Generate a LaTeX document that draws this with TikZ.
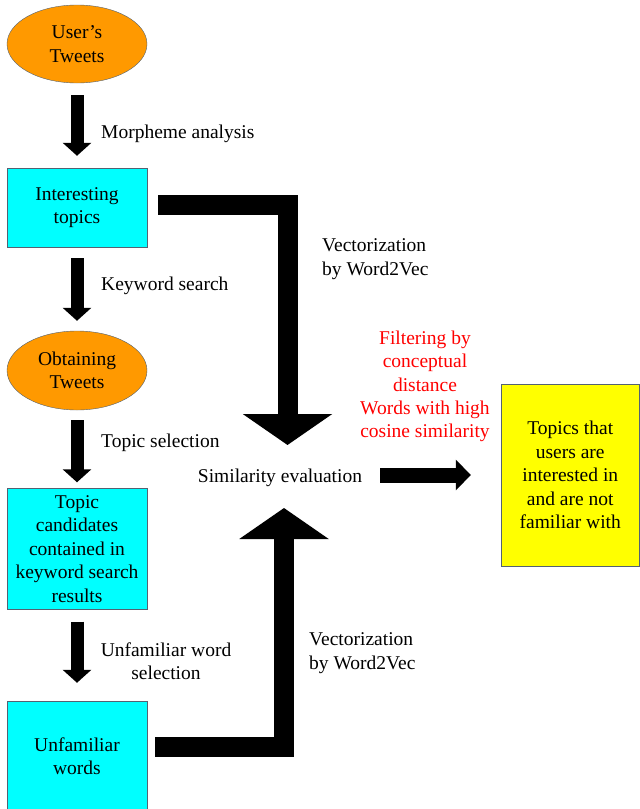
\documentclass[tikz,border=0pt]{standalone}
\usepackage{fontspec}
\setmainfont{Liberation Serif}
\newfontfamily\diagfont{Liberation Serif}
\usetikzlibrary{shapes.geometric,arrows.meta}
\definecolor{edgegray}{RGB}{84,98,114}
\definecolor{tweetorange}{RGB}{255,153,0}
\definecolor{topiccyan}{RGB}{0,255,255}
\definecolor{resultyellow}{RGB}{255,255,0}
\definecolor{notered}{RGB}{255,0,0}
\tikzset{
  every node/.style={font=\diagfont\fontsize{19.5}{23.4}\selectfont, inner sep=0pt, align=center,
    execute at begin node={\rule{0pt}{19pt}}},
  tweetnode/.style={ellipse, draw=edgegray, fill=tweetorange, minimum width=140pt, minimum height=79pt},
  topicbox/.style={rectangle, draw=edgegray, fill=topiccyan, minimum width=140pt},
  resultbox/.style={rectangle, draw=edgegray, fill=resultyellow, minimum width=138.5pt, minimum height=182pt},
  fatdown/.style={line width=13pt, -{Triangle[width=28pt,length=13pt]}},
  fatbend/.style={line width=20pt, -{Triangle[width=88pt,length=31pt]}},
  fatright/.style={line width=15pt, -{Triangle[width=30pt,length=15pt]}},
  steplabel/.style={anchor=west},
  notelabel/.style={text=notered}
}
\begin{document}
\begin{tikzpicture}[x=1pt,y=-1pt]
  \useasboundingbox (0,0) rectangle (640,809);

  % left column
  \node[tweetnode, minimum height=78pt] (usertw) at (77,44) {User’s\\Tweets};
  \node[topicbox, minimum height=79pt] (interest) at (77,207.5) {Interesting\\topics};
  \node[tweetnode] (obtain) at (77,370.5) {Obtaining\\Tweets};
  \node[topicbox, minimum height=121pt] (cand) at (77,549) {Topic\\candidates\\contained in\\keyword search\\results};
  \node[topicbox, minimum height=110pt] (unfam) at (77,756) {Unfamiliar\\words};

  % right side
  \node (simeval) at (280,475) {Similarity evaluation};
  \node[resultbox] (result) at (570.25,475) {Topics that\\users are\\interested in\\and are not\\familiar with};
  \node[notelabel] (filter) at (425,386.5) {Filtering by\\conceptual\\distance\\Words with high\\cosine similarity};

  \coordinate (upin) at (287.5,445);
  \coordinate (lowin) at (284,508);

  % step arrows
  \draw[fatdown] ([yshift=-12pt]usertw.south) -- ([yshift=12pt]interest.north);
  \draw[fatdown] ([yshift=-11pt]interest.south) -- ([yshift=10pt]obtain.north);
  \draw[fatdown] ([yshift=-10pt]obtain.south) -- ([yshift=6pt]cand.north);
  \draw[fatdown] ([yshift=-12pt]cand.south) -- ([yshift=18pt]unfam.north);

  \node[steplabel] (morph) at (101,131) {Morpheme analysis};
  \node[steplabel] (kwsearch) at (101,283) {Keyword search};
  \node[steplabel] (topicsel) at (101,440) {Topic selection};
  \node (unfsel) at (166,661) {Unfamiliar word\\selection};

  % vectorization arrows
  \draw[fatbend] ([xshift=11pt,yshift=2.5pt]interest.east) -| (upin);
  \draw[fatbend] ([xshift=8pt,yshift=9pt]unfam.east) -| (lowin);
  \node[steplabel, align=left] (vecup) at (322,259) {Vectorization\\by Word2Vec};
  \node[steplabel, align=left] (veclow) at (309,653) {Vectorization\\by Word2Vec};

  \draw[fatright] ([xshift=18pt]simeval.east) -- ([xshift=-30pt]result.west);
\end{tikzpicture}
\end{document}
